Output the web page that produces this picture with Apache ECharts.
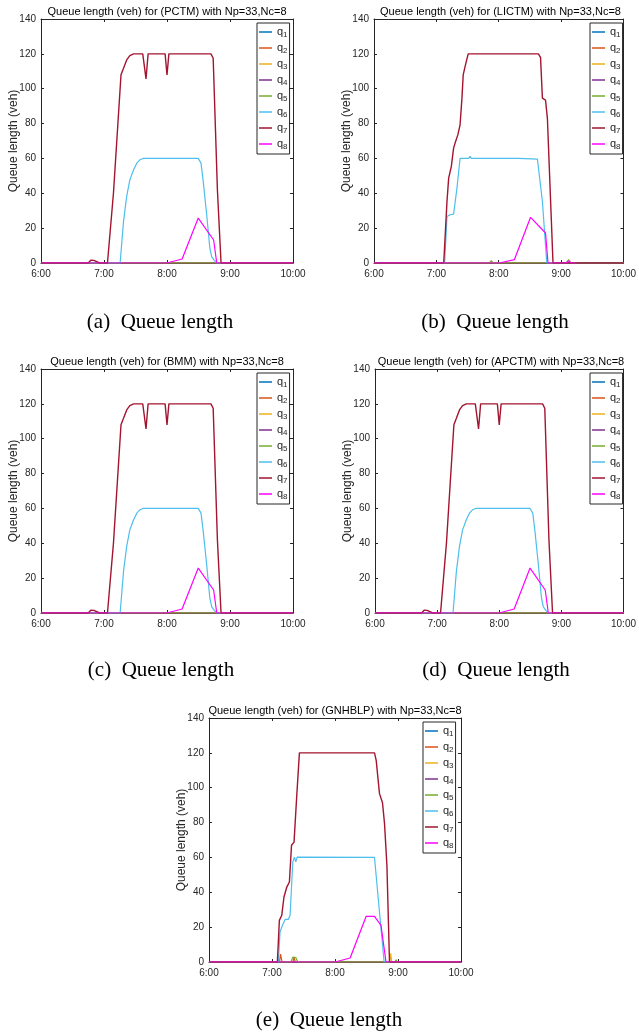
<!DOCTYPE html>
<html>
<head>
<meta charset="utf-8">
<script src="https://cdn.jsdelivr.net/npm/echarts@6/dist/echarts.min.js"></script>
<style>
html,body{margin:0;padding:0;background:#fff;}
#chart{width:639px;height:1033px;}
</style>
</head>
<body>
<div id="chart"></div>
<script>
// ---------- data ----------
const hourTicks = ['6:00', '7:00', '8:00', '9:00', '10:00'];
const queueNames = ['q1', 'q2', 'q3', 'q4', 'q5', 'q6', 'q7', 'q8'];
const zeroT = [6, 10];
const zeroV = [0, 0];

// PCTM (also matches BMM and APCTM panels)
const pctmT6 = [6, 7.256, 7.31, 7.36, 7.41, 7.47, 7.52, 7.57, 7.62, 8.496, 8.54, 8.575, 8.63, 8.68, 8.71, 8.75, 8.79, 10];
const pctmV6 = [0, 0, 23.9, 38.2, 47.7, 53.5, 57.3, 59.2, 60, 60, 57.3, 46.8, 27.7, 8.6, 3.5, 1.5, 0, 0];
const pctmT7 = [6, 6.75, 6.79, 6.84, 6.93, 7.055, 7.15, 7.27, 7.31, 7.36, 7.41, 7.47, 7.615, 7.667, 7.70, 7.97, 8.0, 8.03, 8.255, 8.274, 8.29, 8.697, 8.733, 8.80, 8.858, 10];
const pctmV7 = [0, 0, 1.6, 1.5, 0, 0, 40, 108, 111.7, 116.5, 119, 120, 120, 105.6, 120, 120, 107.9, 120, 120, 119, 120, 120, 117.5, 42, 0, 0];
const pctmT8 = [6, 7.995, 8.24, 8.496, 8.74, 8.79, 10];
const pctmV8 = [0, 0, 2.3, 25.8, 13.2, 0, 0];

// BMM
const bmmT6 = pctmT6, bmmV6 = pctmV6, bmmT7 = pctmT7, bmmV7 = pctmV7, bmmT8 = pctmT8, bmmV8 = pctmV8;
// APCTM
const apctmT6 = pctmT6, apctmV6 = pctmV6, apctmT7 = pctmT7, apctmV7 = pctmV7, apctmT8 = pctmT8, apctmV8 = pctmV8;

// LICTM
const lictmT5 = [6, 7.85, 7.88, 7.91, 9.08, 9.12, 9.16, 10];
const lictmV5 = [0, 0, 1.3, 0, 0, 2, 0, 0];
const lictmT6 = [6, 7.133, 7.17, 7.22, 7.276, 7.33, 7.38, 7.52, 7.54, 7.56, 8.28, 8.30, 8.32, 8.62, 8.65, 8.70, 8.77, 10];
const lictmV6 = [0, 0, 26.7, 27.7, 28, 43, 60, 60, 61.2, 60, 60, 59, 60, 59.6, 59, 35.3, 0, 0];
const lictmT7 = [6, 7.118, 7.17, 7.197, 7.24, 7.276, 7.30, 7.344, 7.38, 7.41, 7.43, 7.46, 7.51, 8.635, 8.67, 8.70, 8.73, 8.75, 8.78, 8.84, 8.87, 10];
const lictmV7 = [0, 0, 35.3, 48.7, 55.4, 65.9, 68.8, 73.5, 79.3, 94.6, 107.9, 112.7, 120, 120, 118, 94.6, 94, 93.5, 83, 27.7, 0, 0];
const lictmT8 = [6, 8.01, 8.25, 8.51, 8.75, 8.79, 9.08, 9.12, 9.16, 9.25];
const lictmV8 = [0, 0, 1.9, 26.2, 17.2, 0, 0, 1.2, 0, 0];

// GNHBLP
const gnT2 = [6, 7.12, 7.135, 7.16, 7.33, 7.35, 7.37, 10];
const gnV2 = [0, 0, 4.5, 0, 0, 2.5, 0, 0];
const gnT3 = [6, 8.87, 8.885, 8.90, 10];
const gnV3 = [0, 0, 5, 0, 0];
const gnT5 = [6, 7.30, 7.33, 7.38, 7.41, 8.95, 8.97, 8.99, 10];
const gnV5 = [0, 0, 2.8, 2.5, 0, 0, 1.2, 0, 0];
const gnT6 = [6, 7.10, 7.128, 7.165, 7.21, 7.26, 7.287, 7.33, 7.356, 7.378, 7.40, 8.627, 8.706, 8.78, 10];
const gnV6 = [0, 0, 17.2, 21, 24.5, 24.5, 26.8, 57.4, 60.2, 57.4, 60.2, 60, 28.7, 0, 0];
const gnT7 = [6, 7.085, 7.117, 7.155, 7.19, 7.235, 7.276, 7.31, 7.35, 7.39, 7.435, 8.627, 8.654, 8.706, 8.754, 8.786, 8.824, 8.865, 10];
const gnV7 = [0, 0, 23.9, 26.8, 37.3, 43, 45.9, 67, 68.8, 93.7, 120, 120, 115.7, 96.6, 91.4, 79.4, 55.5, 0, 0];
const gnT8 = [6, 8.0, 8.24, 8.495, 8.627, 8.73, 8.81, 10];
const gnV8 = [0, 0, 2.3, 26.2, 26.2, 21, 0, 0];

// ---------- layout / style ----------
const colors = ['#0072BD', '#D95319', '#EDB120', '#7E2F8E', '#77AC30', '#4DBEEE', '#A2142F', '#FF00FF'];
const axisColor = '#262626';
const sans = '"Liberation Sans", Arial, sans-serif';
const serif = '"Liberation Serif", "Times New Roman", serif';

const panels = [
  { method: 'PCTM', caption: '(a)  Queue length', grid: { left: 41, top: 19, width: 252, height: 244 }, legend: [257, 23], capPos: [160, 322],
    lines: [[zeroT, zeroV], [zeroT, zeroV], [zeroT, zeroV], [zeroT, zeroV], [zeroT, zeroV], [pctmT6, pctmV6], [pctmT7, pctmV7], [pctmT8, pctmV8]] },
  { method: 'LICTM', caption: '(b)  Queue length', grid: { left: 374, top: 19, width: 253, height: 244 }, legend: [590, 23], capPos: [495, 322],
    lines: [[zeroT, zeroV], [zeroT, zeroV], [zeroT, zeroV], [zeroT, zeroV], [lictmT5, lictmV5], [lictmT6, lictmV6], [lictmT7, lictmV7], [lictmT8, lictmV8]] },
  { method: 'BMM', caption: '(c)  Queue length', grid: { left: 41, top: 369, width: 252, height: 244 }, legend: [257, 373], capPos: [161, 670],
    lines: [[zeroT, zeroV], [zeroT, zeroV], [zeroT, zeroV], [zeroT, zeroV], [zeroT, zeroV], [bmmT6, bmmV6], [bmmT7, bmmV7], [bmmT8, bmmV8]] },
  { method: 'APCTM', caption: '(d)  Queue length', grid: { left: 375, top: 369, width: 252, height: 244 }, legend: [590, 373], capPos: [496, 670],
    lines: [[zeroT, zeroV], [zeroT, zeroV], [zeroT, zeroV], [zeroT, zeroV], [zeroT, zeroV], [apctmT6, apctmV6], [apctmT7, apctmV7], [apctmT8, apctmV8]] },
  { method: 'GNHBLP', caption: '(e)  Queue length', grid: { left: 209, top: 718, width: 252, height: 244 }, legend: [423, 722], capPos: [329, 1020],
    lines: [[zeroT, zeroV], [gnT2, gnV2], [gnT3, gnV3], [zeroT, zeroV], [gnT5, gnV5], [gnT6, gnV6], [gnT7, gnV7], [gnT8, gnV8]] }
];

function pairs(t, v) { return t.map((x, i) => [x, v[i]]); }

const grids = [], xAxes = [], yAxes = [], series = [], legends = [], graphics = [];
const tickStyle = { inside: true, length: 3, lineStyle: { color: axisColor, width: 1 } };
const lineStyleAxis = { show: true, onZero: false, lineStyle: { color: axisColor, width: 1 } };

panels.forEach((p, gi) => {
  grids.push(Object.assign({ containLabel: false }, p.grid));
  xAxes.push({
    type: 'value', gridIndex: gi, min: 6, max: 10, interval: 1, position: 'bottom',
    axisLine: lineStyleAxis, axisTick: tickStyle, splitLine: { show: false },
    axisLabel: { color: axisColor, fontFamily: sans, fontSize: 10, margin: 6,
      formatter: v => hourTicks[Math.round(v - 6)] }
  });
  xAxes.push({
    type: 'value', gridIndex: gi, min: 6, max: 10, interval: 1, position: 'top',
    axisLine: lineStyleAxis, axisTick: tickStyle, splitLine: { show: false }, axisLabel: { show: false }
  });
  yAxes.push({
    type: 'value', gridIndex: gi, min: 0, max: 140, interval: 20, position: 'left',
    axisLine: lineStyleAxis, axisTick: tickStyle, splitLine: { show: false },
    axisLabel: { color: axisColor, fontFamily: sans, fontSize: 10, margin: 5 },
    name: 'Queue length (veh)', nameLocation: 'middle', nameGap: 21, nameRotate: 90,
    nameMoveOverlap: false,
    nameTextStyle: { color: axisColor, fontFamily: sans, fontSize: 12 }
  });
  yAxes.push({
    type: 'value', gridIndex: gi, min: 0, max: 140, interval: 20, position: 'right',
    axisLine: lineStyleAxis, axisTick: tickStyle, splitLine: { show: false }, axisLabel: { show: false }
  });

  p.lines.forEach((ln, si) => {
    series.push({
      type: 'line', name: queueNames[si], xAxisIndex: gi * 2, yAxisIndex: gi * 2,
      data: pairs(ln[0], ln[1]), showSymbol: false, symbol: 'none', animation: false,
      lineStyle: { color: colors[si], width: si === 6 ? 1.4 : 1.2 },
      itemStyle: { color: colors[si] }, z: 2 + si * 0.01
    });
  });

  legends.push({
    orient: 'vertical', left: p.legend[0], top: p.legend[1],
    data: queueNames.slice(), icon: 'rect', itemWidth: 13, itemHeight: 1.5, itemGap: 2,
    padding: [2, 2, 3, 2], backgroundColor: '#fff', borderColor: axisColor, borderWidth: 1,
    selectedMode: false,
    formatter: name => '{b|q}{s|' + name.slice(1) + '}',
    textStyle: {
      color: axisColor, fontFamily: sans, fontSize: 11, lineHeight: 14,
      rich: {
        b: { fontSize: 11, fontFamily: sans, color: axisColor, lineHeight: 14, verticalAlign: 'middle' },
        s: { fontSize: 8, fontFamily: sans, color: axisColor, lineHeight: 8, verticalAlign: 'bottom' }
      }
    }
  });

  const cx = p.grid.left + p.grid.width / 2;
  graphics.push({
    type: 'text', x: cx, y: p.grid.top - 7.5, z: 100,
    style: { text: 'Queue length (veh) for (' + p.method + ') with Np=33,Nc=8', font: '11px ' + sans,
      fill: '#000', align: 'center', verticalAlign: 'middle' }
  });
  graphics.push({
    type: 'text', x: p.capPos[0], y: p.capPos[1], z: 100,
    style: { text: p.caption, font: '21px ' + serif, fill: '#000', align: 'center', verticalAlign: 'middle' }
  });
});

const chart = echarts.init(document.getElementById('chart'), null, { renderer: 'canvas' });
chart.setOption({
  backgroundColor: '#fff',
  animation: false,
  grid: grids,
  xAxis: xAxes,
  yAxis: yAxes,
  legend: legends,
  series: series,
  graphic: graphics
});
</script>
</body>
</html>
